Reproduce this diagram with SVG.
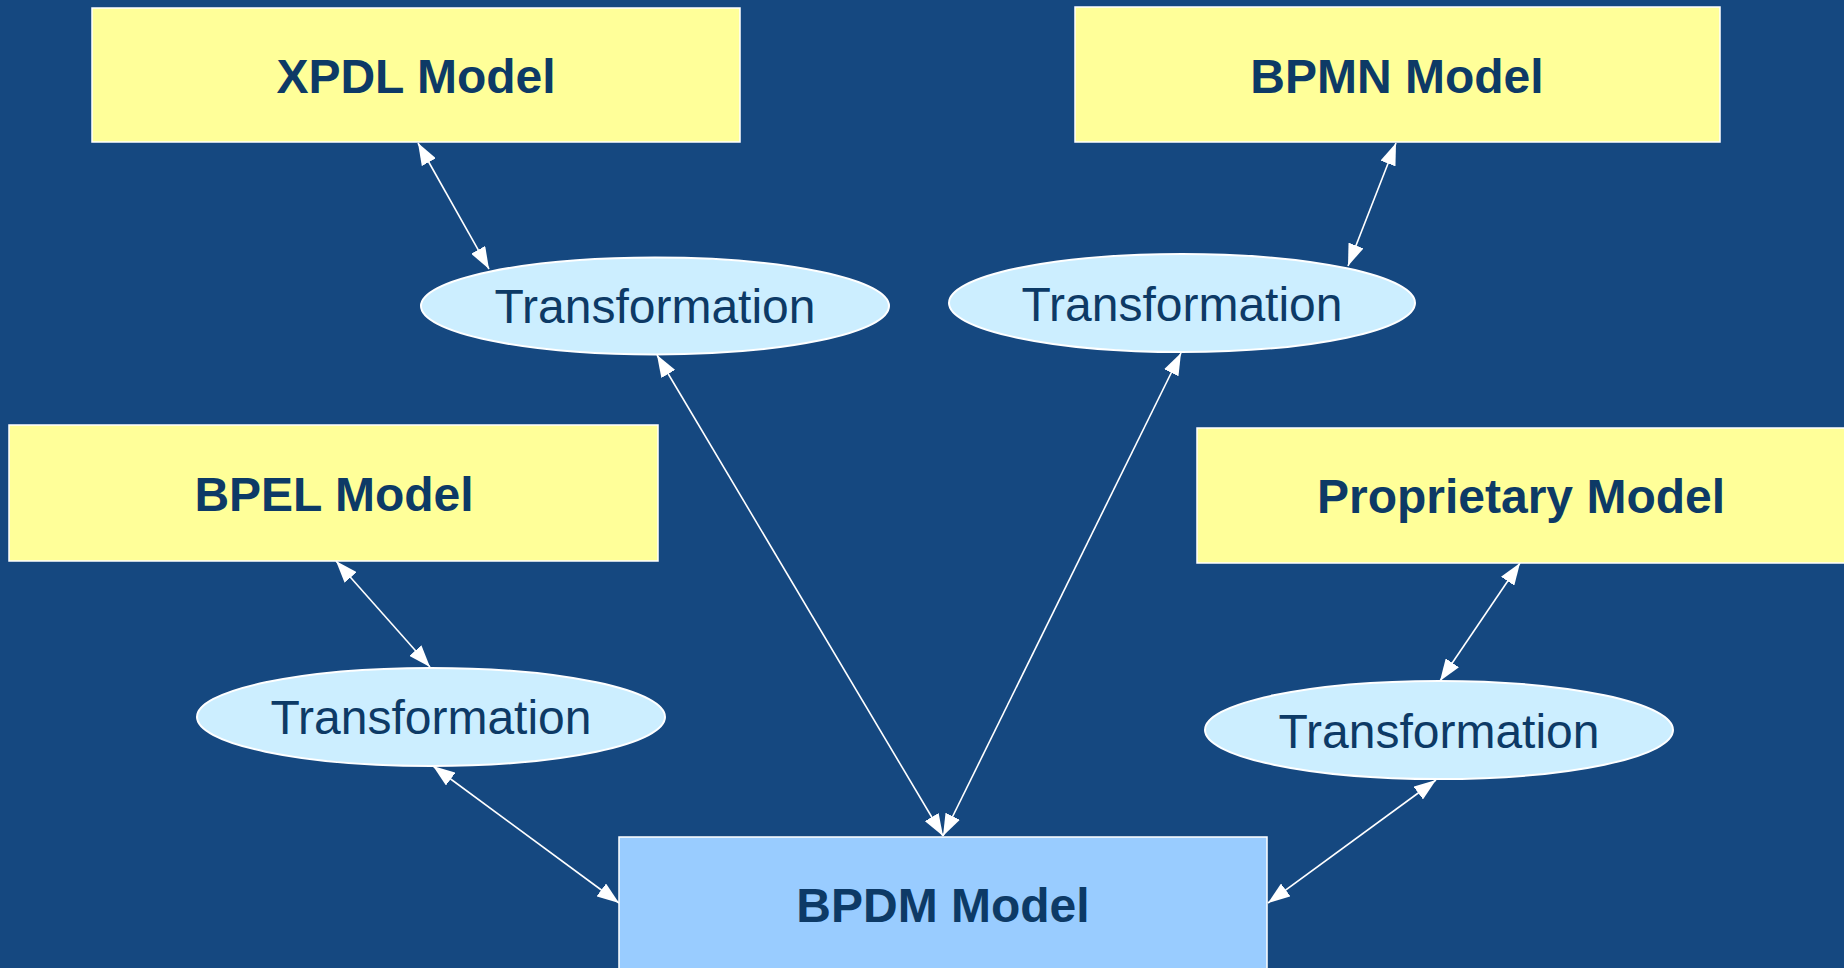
<svg xmlns="http://www.w3.org/2000/svg" width="1844" height="968" viewBox="0 0 1844 968">
<defs>
<style>
.box{fill:#FFFF99;stroke:#FFFFFF;stroke-width:1.5}
.core{fill:#99CCFF;stroke:#FFFFFF;stroke-width:1.5}
.ell{fill:#CCEEFF;stroke:#FFFFFF;stroke-width:2}
.bt{font-family:"Liberation Sans",Arial,sans-serif;font-weight:bold;font-size:48px;fill:#0D3A66;text-anchor:middle}
.et{font-family:"Liberation Sans",Arial,sans-serif;font-size:48px;fill:#0D3A66;text-anchor:middle}
.con{stroke:#FFFFFF;stroke-width:1.6;fill:none;marker-start:url(#ah);marker-end:url(#ah)}
</style>
<marker id="ah" viewBox="0 0 22 16" refX="22" refY="8" markerWidth="22" markerHeight="16" markerUnits="userSpaceOnUse" orient="auto-start-reverse">
<path d="M0,0 L22,8 L0,16 z" fill="#FFFFFF"/>
</marker>
</defs>
<rect x="0" y="0" width="1844" height="968" fill="#154880"/>
<g id="connectors">
<line class="con" x1="418" y1="143" x2="489" y2="269"/>
<line class="con" x1="1396" y1="143" x2="1348" y2="266"/>
<line class="con" x1="336" y1="561" x2="430" y2="667"/>
<line class="con" x1="1520" y1="563" x2="1440" y2="681"/>
<line class="con" x1="657" y1="355" x2="943" y2="836"/>
<line class="con" x1="1181" y1="353" x2="943" y2="836"/>
<line class="con" x1="433" y1="766" x2="619" y2="903"/>
<line class="con" x1="1436" y1="780" x2="1268" y2="903"/>
</g>
<g id="xpdl">
<rect class="box" x="92" y="8" width="648" height="134"/>
<text class="bt" x="416" y="93">XPDL Model</text>
</g>
<g id="bpmn">
<rect class="box" x="1075" y="7" width="645" height="135"/>
<text class="bt" x="1397" y="93">BPMN Model</text>
</g>
<g id="bpel">
<rect class="box" x="9" y="425" width="649" height="136"/>
<text class="bt" x="334" y="511">BPEL Model</text>
</g>
<g id="proprietary">
<rect class="box" x="1197" y="428" width="660" height="135"/>
<text class="bt" x="1521" y="513">Proprietary Model</text>
</g>
<g id="bpdm">
<rect class="core" x="619" y="837" width="648" height="140"/>
<text class="bt" x="943" y="922">BPDM Model</text>
</g>
<g id="trans-xpdl">
<ellipse class="ell" cx="655" cy="306" rx="234" ry="48.5"/>
<text class="et" x="655" y="323">Transformation</text>
</g>
<g id="trans-bpmn">
<ellipse class="ell" cx="1182" cy="303" rx="233" ry="49"/>
<text class="et" x="1182" y="321">Transformation</text>
</g>
<g id="trans-bpel">
<ellipse class="ell" cx="431" cy="717" rx="234" ry="49"/>
<text class="et" x="431" y="734">Transformation</text>
</g>
<g id="trans-proprietary">
<ellipse class="ell" cx="1439" cy="730" rx="234" ry="49"/>
<text class="et" x="1439" y="748">Transformation</text>
</g>
</svg>
